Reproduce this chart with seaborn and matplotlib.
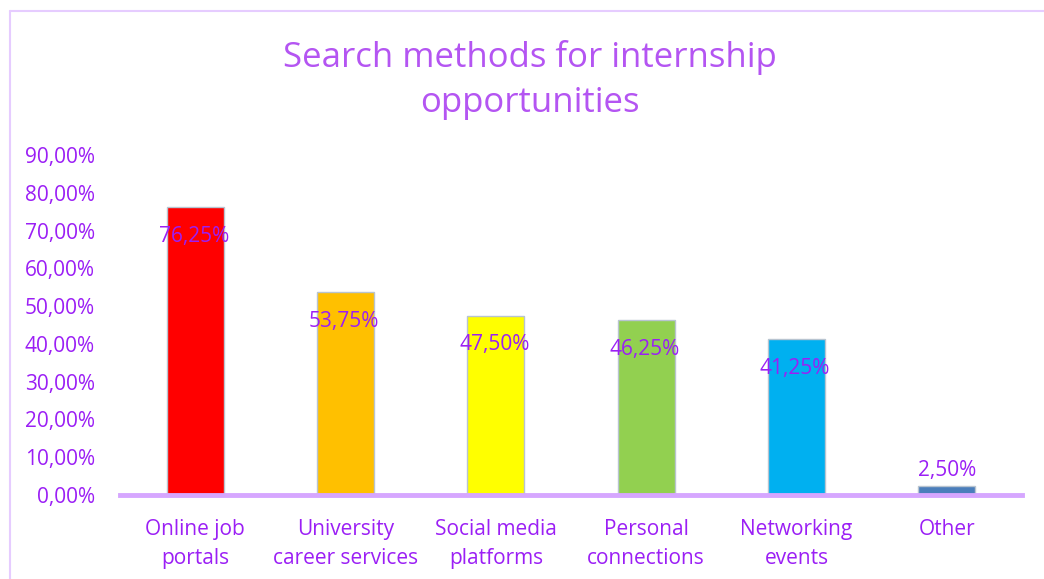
import matplotlib
matplotlib.use("Agg")
import matplotlib.pyplot as plt
import seaborn as sns
import pandas as pd
from matplotlib.ticker import FuncFormatter, MultipleLocator
from matplotlib.lines import Line2D

categories = ["Online job\nportals", "University\ncareer services", "Social media\nplatforms",
              "Personal\nconnections", "Networking\nevents", "Other"]
values = [0.7625, 0.5375, 0.4750, 0.4625, 0.4125, 0.0250]
bar_colors = ["#FF0000", "#FFC000", "#FFFF00", "#92D050", "#00B0F0", "#4A7EBB"]
title = "Search methods for internship\nopportunities"

sns.set_theme(style="white")
plt.rcParams['font.family'] = ['Open Sans', 'DejaVu Sans']

text_color = "#9B1FF5"
title_color = "#B455F2"

df = pd.DataFrame({"cat": categories, "val": values})

fig = plt.figure(figsize=(10.44, 5.79), dpi=100)
ax = fig.add_axes([120/1044, 1-495/579, 902/1044, 340/579])

sns.barplot(data=df, x="cat", y="val", hue="cat", palette=bar_colors, legend=False,
            width=0.38, ax=ax, edgecolor="#B8C4D0", linewidth=1.0, saturation=1)

ax.set_xlim(-0.5, 5.5)
ax.set_ylim(0, 0.9)
ax.yaxis.set_major_locator(MultipleLocator(0.1))
ax.yaxis.set_major_formatter(FuncFormatter(lambda v, p: f"{v*100:.2f}%".replace(".", ",")))
ax.set_xlabel("")
ax.set_ylabel("")
for s in ["top", "right", "left"]:
    ax.spines[s].set_visible(False)
ax.spines["bottom"].set_color("#D6A6FF")
ax.spines["bottom"].set_linewidth(3.5)
ax.tick_params(axis="y", colors=text_color, labelsize=15, length=0, pad=18)
ax.tick_params(axis="x", colors=text_color, labelsize=15, length=0, pad=17)
for lab in ax.get_xticklabels() + ax.get_yticklabels():
    lab.set_color(text_color)
for lab in ax.get_xticklabels():
    lab.set_linespacing(1.55)

for p in ax.patches:
    h = p.get_height()
    cx = p.get_x() + p.get_width() / 2
    label = f"{h*100:.2f}%".replace(".", ",")
    if h > 0.1:
        ax.annotate(label, (cx, h), xytext=(-1, -21), textcoords="offset points",
                    ha="center", va="center", color=text_color, fontsize=15)
    else:
        ax.annotate(label, (cx, h), xytext=(0, 10.5), textcoords="offset points",
                    ha="center", va="center", color=text_color, fontsize=15)

fig.text(530/1044, 1-80/579, title, ha="center", va="center", color=title_color,
         fontsize=25, linespacing=1.4)

# chart area border (top and left)
fig.add_artist(Line2D([10/1044, 10/1044], [0, 1-11/579], transform=fig.transFigure,
                      color="#E6CCFF", linewidth=1.5))
fig.add_artist(Line2D([10/1044, 1], [1-11/579, 1-11/579], transform=fig.transFigure,
                      color="#E6CCFF", linewidth=1.5))

fig.savefig("out.png", dpi=100)
